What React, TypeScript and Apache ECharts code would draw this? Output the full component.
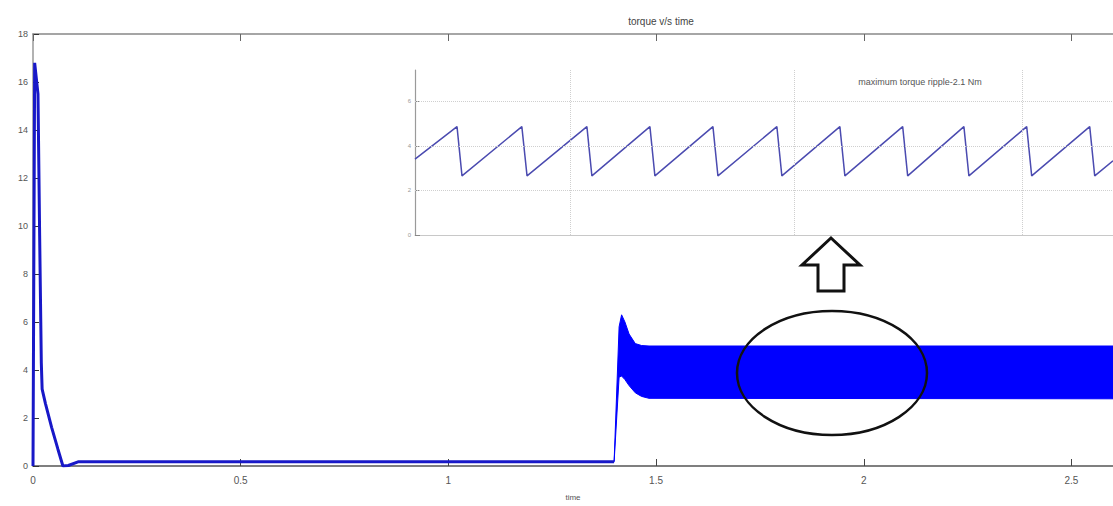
import React, { useEffect, useRef } from "react";
import * as echarts from "echarts";

// Main trace before the load step (time s, torque Nm)
const mainTime = [0, 0.004, 0.012, 0.016, 0.02, 0.022, 0.03, 0.045, 0.06, 0.072, 0.085, 0.11, 1.399];
const mainTorque = [0, 16.8, 15.5, 9.6, 4.3, 3.2, 2.6, 1.6, 0.7, 0.0, 0.02, 0.18, 0.18];

// Ripple band after the load step: lower and upper envelopes
const bandTime = [1.399, 1.411, 1.417, 1.425, 1.435, 1.45, 1.465, 1.483, 2.6];
const bandLow = [0.18, 3.7, 3.75, 3.6, 3.35, 3.05, 2.9, 2.82, 2.8];
const bandHigh = [0.18, 5.8, 6.3, 6.0, 5.5, 5.1, 5.02, 5.0, 5.0];

const mainXTicks = [0, 0.5, 1, 1.5, 2, 2.5];

// Zoomed inset (time ms, torque Nm)
const insetTime = [0, 1.86, 2.08, 4.73, 4.96, 7.61, 7.83, 10.4, 10.62, 13.19, 13.41, 16.02, 16.24, 18.81, 19.03, 21.59, 21.81, 24.3, 24.52, 27.08, 27.3, 29.87, 30.09, 30.9];
const insetTorque = [3.4, 4.86, 2.65, 4.86, 2.65, 4.86, 2.65, 4.86, 2.65, 4.86, 2.65, 4.86, 2.65, 4.86, 2.65, 4.86, 2.65, 4.86, 2.65, 4.86, 2.65, 4.86, 2.65, 3.33];
const insetYTicks = [0, 2, 4, 6];
const insetGridX = [6.86, 16.8, 26.9];
const insetGridY = [2, 4, 6];

export default function App() {
  const ref = useRef<HTMLDivElement>(null);
  useEffect(() => {
    if (!ref.current) return;
    const chart = echarts.init(ref.current, null, { renderer: "svg" });
    const mainData = mainTime.map((t, i) => [t, mainTorque[i]]);
    const insetData = insetTime.map((t, i) => [t, insetTorque[i]]);
    const gridLineStyle = { color: "#cfcfcf", type: "dotted" as const, width: 1 };
    chart.setOption({
      animation: false,
      backgroundColor: "#ffffff",
      title: {
        text: "torque v/s time",
        left: 656,
        top: 11,
        textAlign: "center",
        textStyle: { fontSize: 10, fontWeight: "normal", color: "#444", fontFamily: "Liberation Sans" },
      },
      grid: [
        { left: 33, top: 34, right: 0, bottom: 40 },
        { left: 415, top: 70, right: 0, bottom: 271 },
      ],
      xAxis: [
        {
          gridIndex: 0, type: "value", min: 0, max: 2.6, interval: 0.5, position: "bottom",
          name: "time", nameLocation: "middle", nameGap: 27,
          nameTextStyle: { fontSize: 8, color: "#555", fontFamily: "Liberation Sans" },
          axisLine: { lineStyle: { color: "#555", width: 1.5 } },
          axisTick: { inside: true, length: 7, lineStyle: { color: "#444" }, customValues: mainXTicks },
          axisLabel: { fontSize: 10, color: "#555", margin: 9, fontFamily: "Liberation Sans", customValues: mainXTicks },
          splitLine: { show: false },
        },
        {
          gridIndex: 0, type: "value", min: 0, max: 2.6, interval: 0.5, position: "top",
          axisLine: { onZero: false, lineStyle: { color: "#888", width: 1.5 } },
          axisTick: { inside: true, length: 7, lineStyle: { color: "#666" }, customValues: mainXTicks },
          axisLabel: { show: false },
          splitLine: { show: false },
        },
        {
          gridIndex: 1, type: "value", min: 0, max: 30.9,
          axisLine: { lineStyle: { color: "#c8c8c8" } },
          axisTick: { show: false },
          axisLabel: { show: false },
          splitLine: { show: false },
        },
      ],
      yAxis: [
        {
          gridIndex: 0, type: "value", min: 0, max: 18, interval: 2,
          axisLine: { show: true, lineStyle: { color: "#999", width: 1.5 } },
          axisTick: { show: true, inside: true, length: 6, lineStyle: { color: "#333" } },
          axisLabel: { fontSize: 9, color: "#555", margin: 5, fontFamily: "Liberation Sans" },
          splitLine: { show: false },
        },
        {
          gridIndex: 1, type: "value", min: 0, max: 7.4, interval: 2,
          axisLine: { show: true, lineStyle: { color: "#9a9a9a", width: 1.2 } },
          axisTick: { show: true, inside: true, length: 5, lineStyle: { color: "#888" }, customValues: insetYTicks },
          axisLabel: { fontSize: 6, color: "#999", margin: 4, customValues: insetYTicks },
          splitLine: { show: false },
        },
      ],
      series: [
        {
          type: "line", xAxisIndex: 0, yAxisIndex: 0, data: mainData,
          showSymbol: false, symbol: "none",
          lineStyle: { color: "#1818c8", width: 3 },
          z: 3,
        },
        {
          type: "custom", xAxisIndex: 0, yAxisIndex: 0,
          data: [[bandTime[0], bandLow[0]]],
          renderItem: (_params: any, api: any) => {
            const upper = bandTime.map((t, i) => api.coord([t, bandHigh[i]]));
            const lower = bandTime.map((t, i) => api.coord([t, bandLow[i]])).reverse();
            return {
              type: "polygon",
              shape: { points: [...upper, ...lower] },
              style: { fill: "#0000ff", stroke: "#0000ff", lineWidth: 1 },
            };
          },
          z: 2,
        },
        {
          type: "line", xAxisIndex: 2, yAxisIndex: 1, data: insetData,
          symbol: "none",
          lineStyle: { color: "#4b4bb0", width: 1.5 },
          markLine: {
            silent: true, symbol: "none", label: { show: false },
            data: [
              ...insetGridX.map((x) => ({ xAxis: x, lineStyle: gridLineStyle })),
              ...insetGridY.map((y) => ({ yAxis: y, lineStyle: gridLineStyle })),
            ],
          },
        },
      ],
      graphic: [
        {
          type: "text", x: 920, y: 82, z: 10,
          style: {
            text: "maximum torque ripple-2.1 Nm", fill: "#555", fontSize: 9,
            fontFamily: "Liberation Sans", textAlign: "center", textVerticalAlign: "middle",
          },
        },
        {
          type: "polygon", z: 10,
          shape: { points: [[831, 238], [860, 265], [844, 265], [844, 291], [818, 291], [818, 265], [802, 265]] },
          style: { fill: "#ffffff", stroke: "#111", lineWidth: 3 },
        },
        {
          type: "ellipse", z: 10,
          shape: { cx: 832, cy: 373, rx: 95, ry: 62 },
          style: { fill: "none", stroke: "#111", lineWidth: 2.5 },
        },
      ],
    });
    return () => chart.dispose();
  }, []);
  return <div ref={ref} style={{ position: "absolute", left: 0, top: 0, width: 1113, height: 506 }} />;
}
